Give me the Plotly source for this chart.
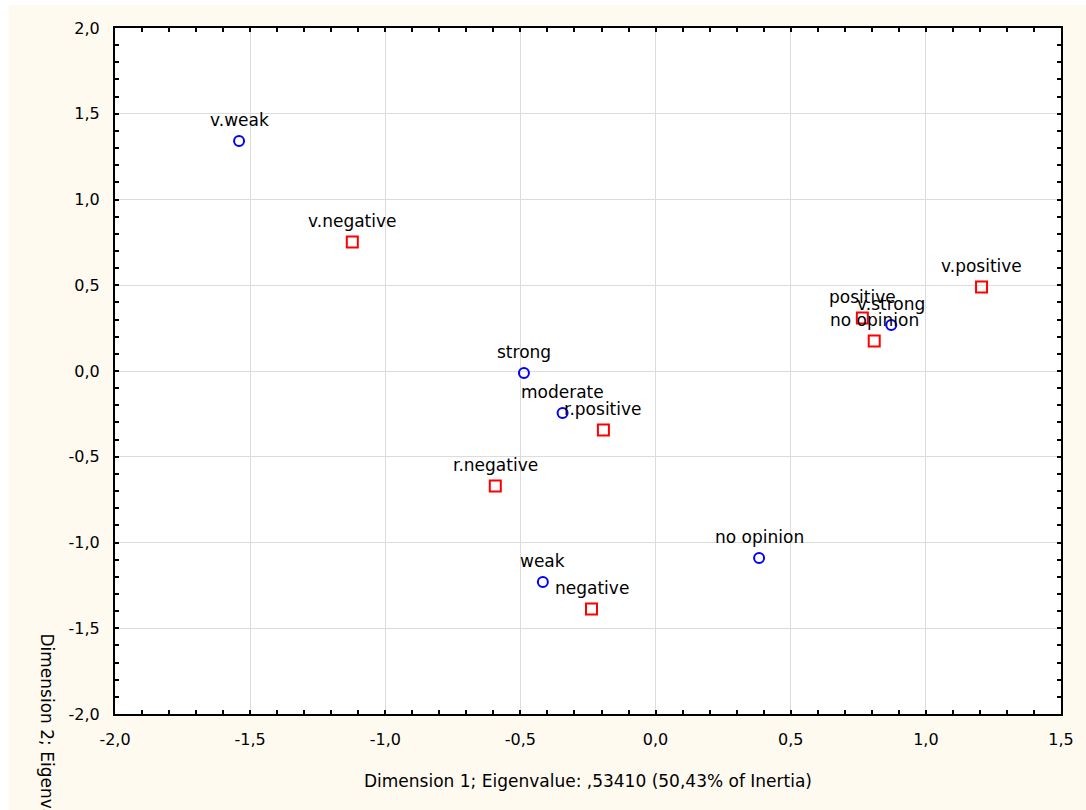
import plotly.graph_objects as go

# Row categories (circles)
row_labels = ["v.weak", "strong", "moderate", "v.strong", "no opinion", "weak"]
row_x = [-1.541, -0.487, -0.344, 0.872, 0.383, -0.417]
row_y = [1.341, -0.012, -0.245, 0.268, -1.090, -1.230]

# Column categories (squares)
col_labels = ["v.negative", "v.positive", "positive", "no opinion", "r.positive", "r.negative", "negative"]
col_x = [-1.122, 1.206, 0.765, 0.809, -0.193, -0.593, -0.237]
col_y = [0.752, 0.490, 0.309, 0.175, -0.344, -0.671, -1.388]

x_tickvals = [-2.0, -1.5, -1.0, -0.5, 0.0, 0.5, 1.0, 1.5]
x_ticktext = ["-2,0", "-1,5", "-1,0", "-0,5", "0,0", "0,5", "1,0", "1,5"]
y_tickvals = [-2.0, -1.5, -1.0, -0.5, 0.0, 0.5, 1.0, 1.5, 2.0]
y_ticktext = ["-2,0", "-1,5", "-1,0", "-0,5", "0,0", "0,5", "1,0", "1,5", "2,0"]

x_title = "Dimension 1; Eigenvalue: ,53410 (50,43% of Inertia)"
y_title = "Dimension 2; Eigenvalue"

FONT = "DejaVu Sans"
CREAM = "#fffaf0"

W, H = 1086, 810
ML, MR, MT, MB = 115, 18, 28, 96
PW, PH = W - ML - MR, H - MT - MB

fig = go.Figure()
fig.add_trace(go.Scatter(
    x=row_x, y=row_y, mode="markers", name="rows",
    marker=dict(symbol="circle-open", size=10, color="#0000ff", line=dict(width=2, color="#0000ff")),
    hoverinfo="text", text=row_labels,
))
fig.add_trace(go.Scatter(
    x=col_x, y=col_y, mode="markers", name="cols",
    marker=dict(symbol="square-open", size=11, color="#ff0000", line=dict(width=2, color="#ff0000")),
    hoverinfo="text", text=col_labels,
))

annotations = []
for lab, xv, yv in list(zip(row_labels, row_x, row_y)) + list(zip(col_labels, col_x, col_y)):
    annotations.append(dict(
        x=xv, y=yv, xref="x", yref="y", text=lab, showarrow=False,
        yshift=21, xanchor="center", yanchor="middle",
        font=dict(family=FONT, size=17, color="black"),
    ))

# y axis title (rotated, reading top to bottom)
annotations.append(dict(
    x=(47 - ML) / PW, y=(MT + PH - 632) / PH, xref="paper", yref="paper",
    text=y_title, showarrow=False, textangle=90,
    xanchor="center", yanchor="top",
    font=dict(family=FONT, size=17, color="black"),
))

axis_common = dict(
    showline=True, linecolor="black", linewidth=2, mirror="allticks",
    ticks="inside", ticklen=4, tickwidth=1.5, tickcolor="black",
    showgrid=True, gridcolor="#dcdcdc", gridwidth=1, zeroline=False,
    tickfont=dict(family=FONT, size=16, color="black"),
    minor=dict(ticks="inside", dtick=0.1, ticklen=4, tickwidth=1.5, tickcolor="black", showgrid=False),
)

fig.update_xaxes(
    range=[-2.0, 1.5], tickmode="array", tickvals=x_tickvals, ticktext=x_ticktext,
    ticklabelstandoff=10,
    title=dict(text=x_title, font=dict(family=FONT, size=17, color="black"), standoff=27),
    **axis_common,
)
fig.update_yaxes(
    range=[-2.0, 2.0], tickmode="array", tickvals=y_tickvals, ticktext=y_ticktext,
    ticklabelstandoff=10,
    **axis_common,
)

fig.update_layout(
    width=W, height=H,
    margin=dict(l=ML, r=MR, t=MT, b=MB, pad=0),
    paper_bgcolor=CREAM, plot_bgcolor="white",
    showlegend=False,
    font=dict(family=FONT, color="black"),
    annotations=annotations,
    shapes=[
        dict(type="rect", xref="paper", yref="paper", layer="below",
             x0=-ML / PW - 0.01, x1=(8 - ML) / PW, y0=-MB / PH - 0.01, y1=1 + MT / PH + 0.01,
             fillcolor="white", line=dict(width=0)),
        dict(type="rect", xref="paper", yref="paper", layer="below",
             x0=-ML / PW - 0.01, x1=1 + MR / PW + 0.01, y0=1 + (MT - 5) / PH, y1=1 + MT / PH + 0.01,
             fillcolor="white", line=dict(width=0)),
    ],
)

fig.write_html("out.html")
